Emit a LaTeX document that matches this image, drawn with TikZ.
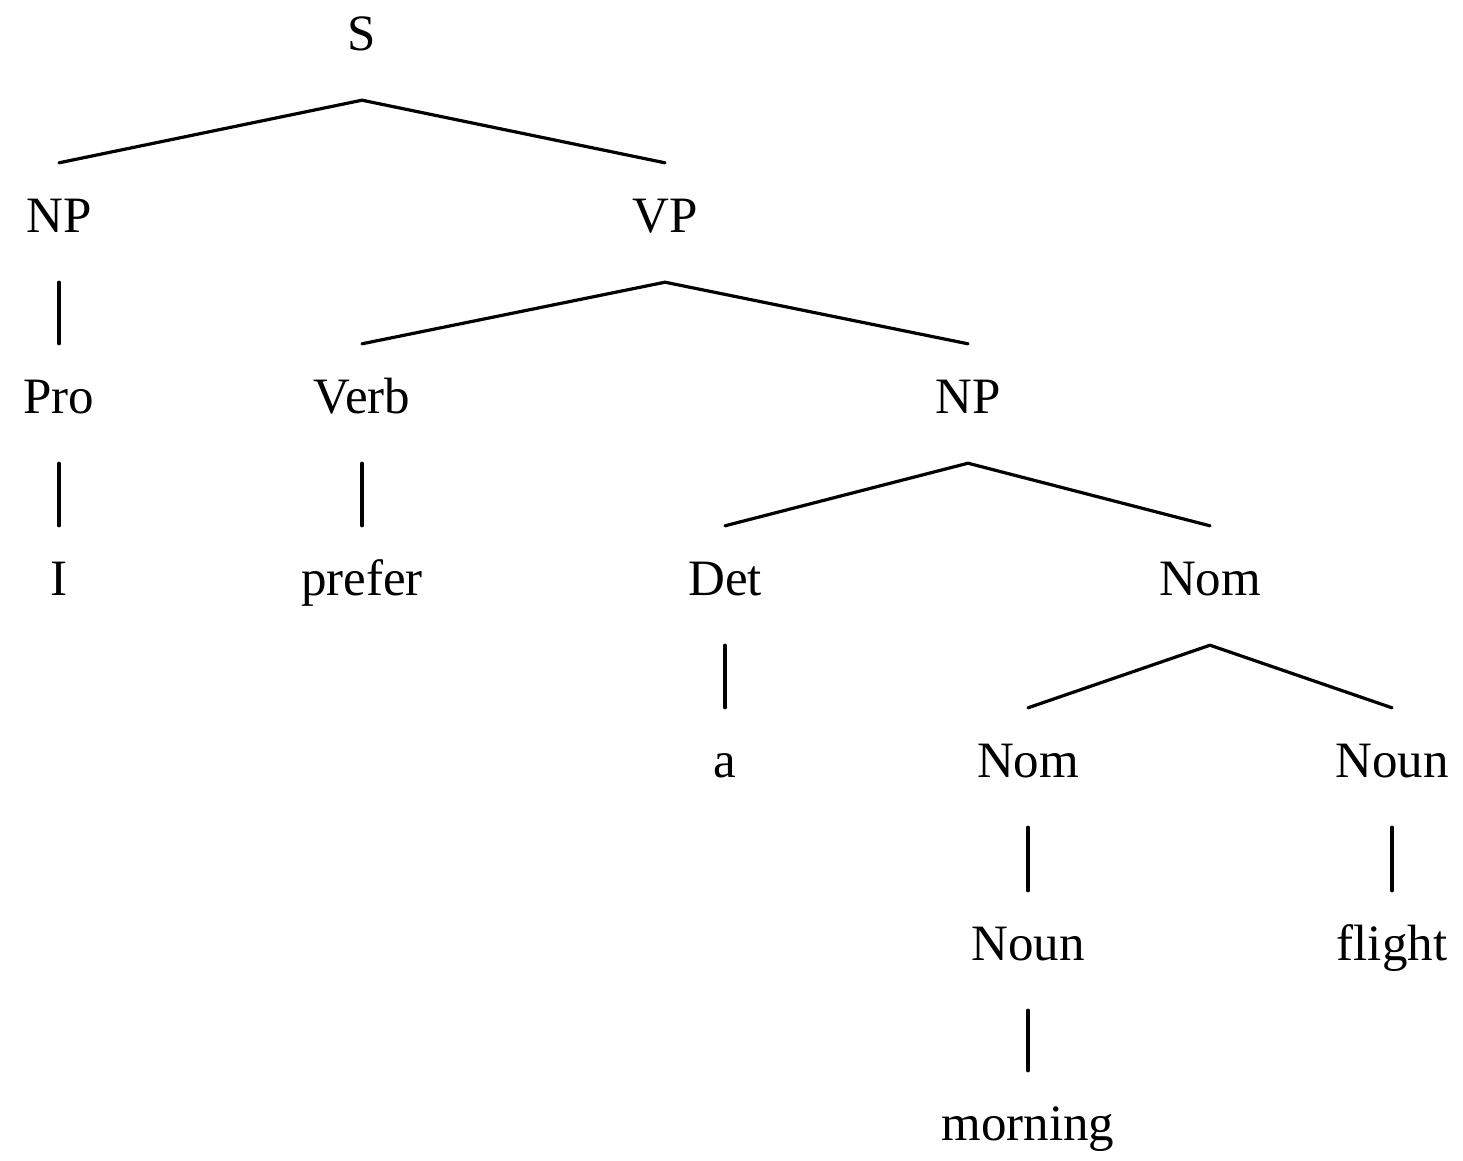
\documentclass[tikz,border=0pt]{standalone}
\usepackage{fontspec}
\setmainfont{Liberation Serif}
\begin{document}
\begin{tikzpicture}[x=1pt,y=-1pt,
  lab/.style={anchor=base,inner sep=0pt,text height=69pt,text depth=50pt,font=\fontsize{51}{60}\selectfont},
  edge/.style={line width=3.2pt,line cap=round}]
\useasboundingbox (0,0) rectangle (1463,1160);
\node[lab] (S) at (362,50) {S};
\node[lab] (NP) at (59,232) {NP};
\node[lab] (VP) at (665,232) {VP};
\node[lab] (Pro) at (59,413) {Pro};
\node[lab] (Verb) at (362,413) {Verb};
\node[lab] (NPb) at (968,413) {NP};
\node[lab] (I) at (59,595) {I};
\node[lab] (prefer) at (362,595) {prefer};
\node[lab] (Det) at (725,595) {Det};
\node[lab] (Nom) at (1210,595) {Nom};
\node[lab] (a) at (725,777) {a};
\node[lab] (Nomb) at (1028,777) {Nom};
\node[lab] (Noun) at (1392,777) {Noun};
\node[lab] (Nounb) at (1028,960) {Noun};
\node[lab] (flight) at (1392,960) {flight};
\node[lab] (morning) at (1028,1140) {morning};
\draw[edge] (S.south) -- (NP.north);
\draw[edge] (S.south) -- (VP.north);
\draw[edge] (NP.south) -- (Pro.north);
\draw[edge] (Pro.south) -- (I.north);
\draw[edge] (VP.south) -- (Verb.north);
\draw[edge] (VP.south) -- (NPb.north);
\draw[edge] (Verb.south) -- (prefer.north);
\draw[edge] (NPb.south) -- (Det.north);
\draw[edge] (NPb.south) -- (Nom.north);
\draw[edge] (Det.south) -- (a.north);
\draw[edge] (Nom.south) -- (Nomb.north);
\draw[edge] (Nom.south) -- (Noun.north);
\draw[edge] (Nomb.south) -- (Nounb.north);
\draw[edge] (Noun.south) -- (flight.north);
\draw[edge] (Nounb.south) -- (morning.north);
\end{tikzpicture}
\end{document}
